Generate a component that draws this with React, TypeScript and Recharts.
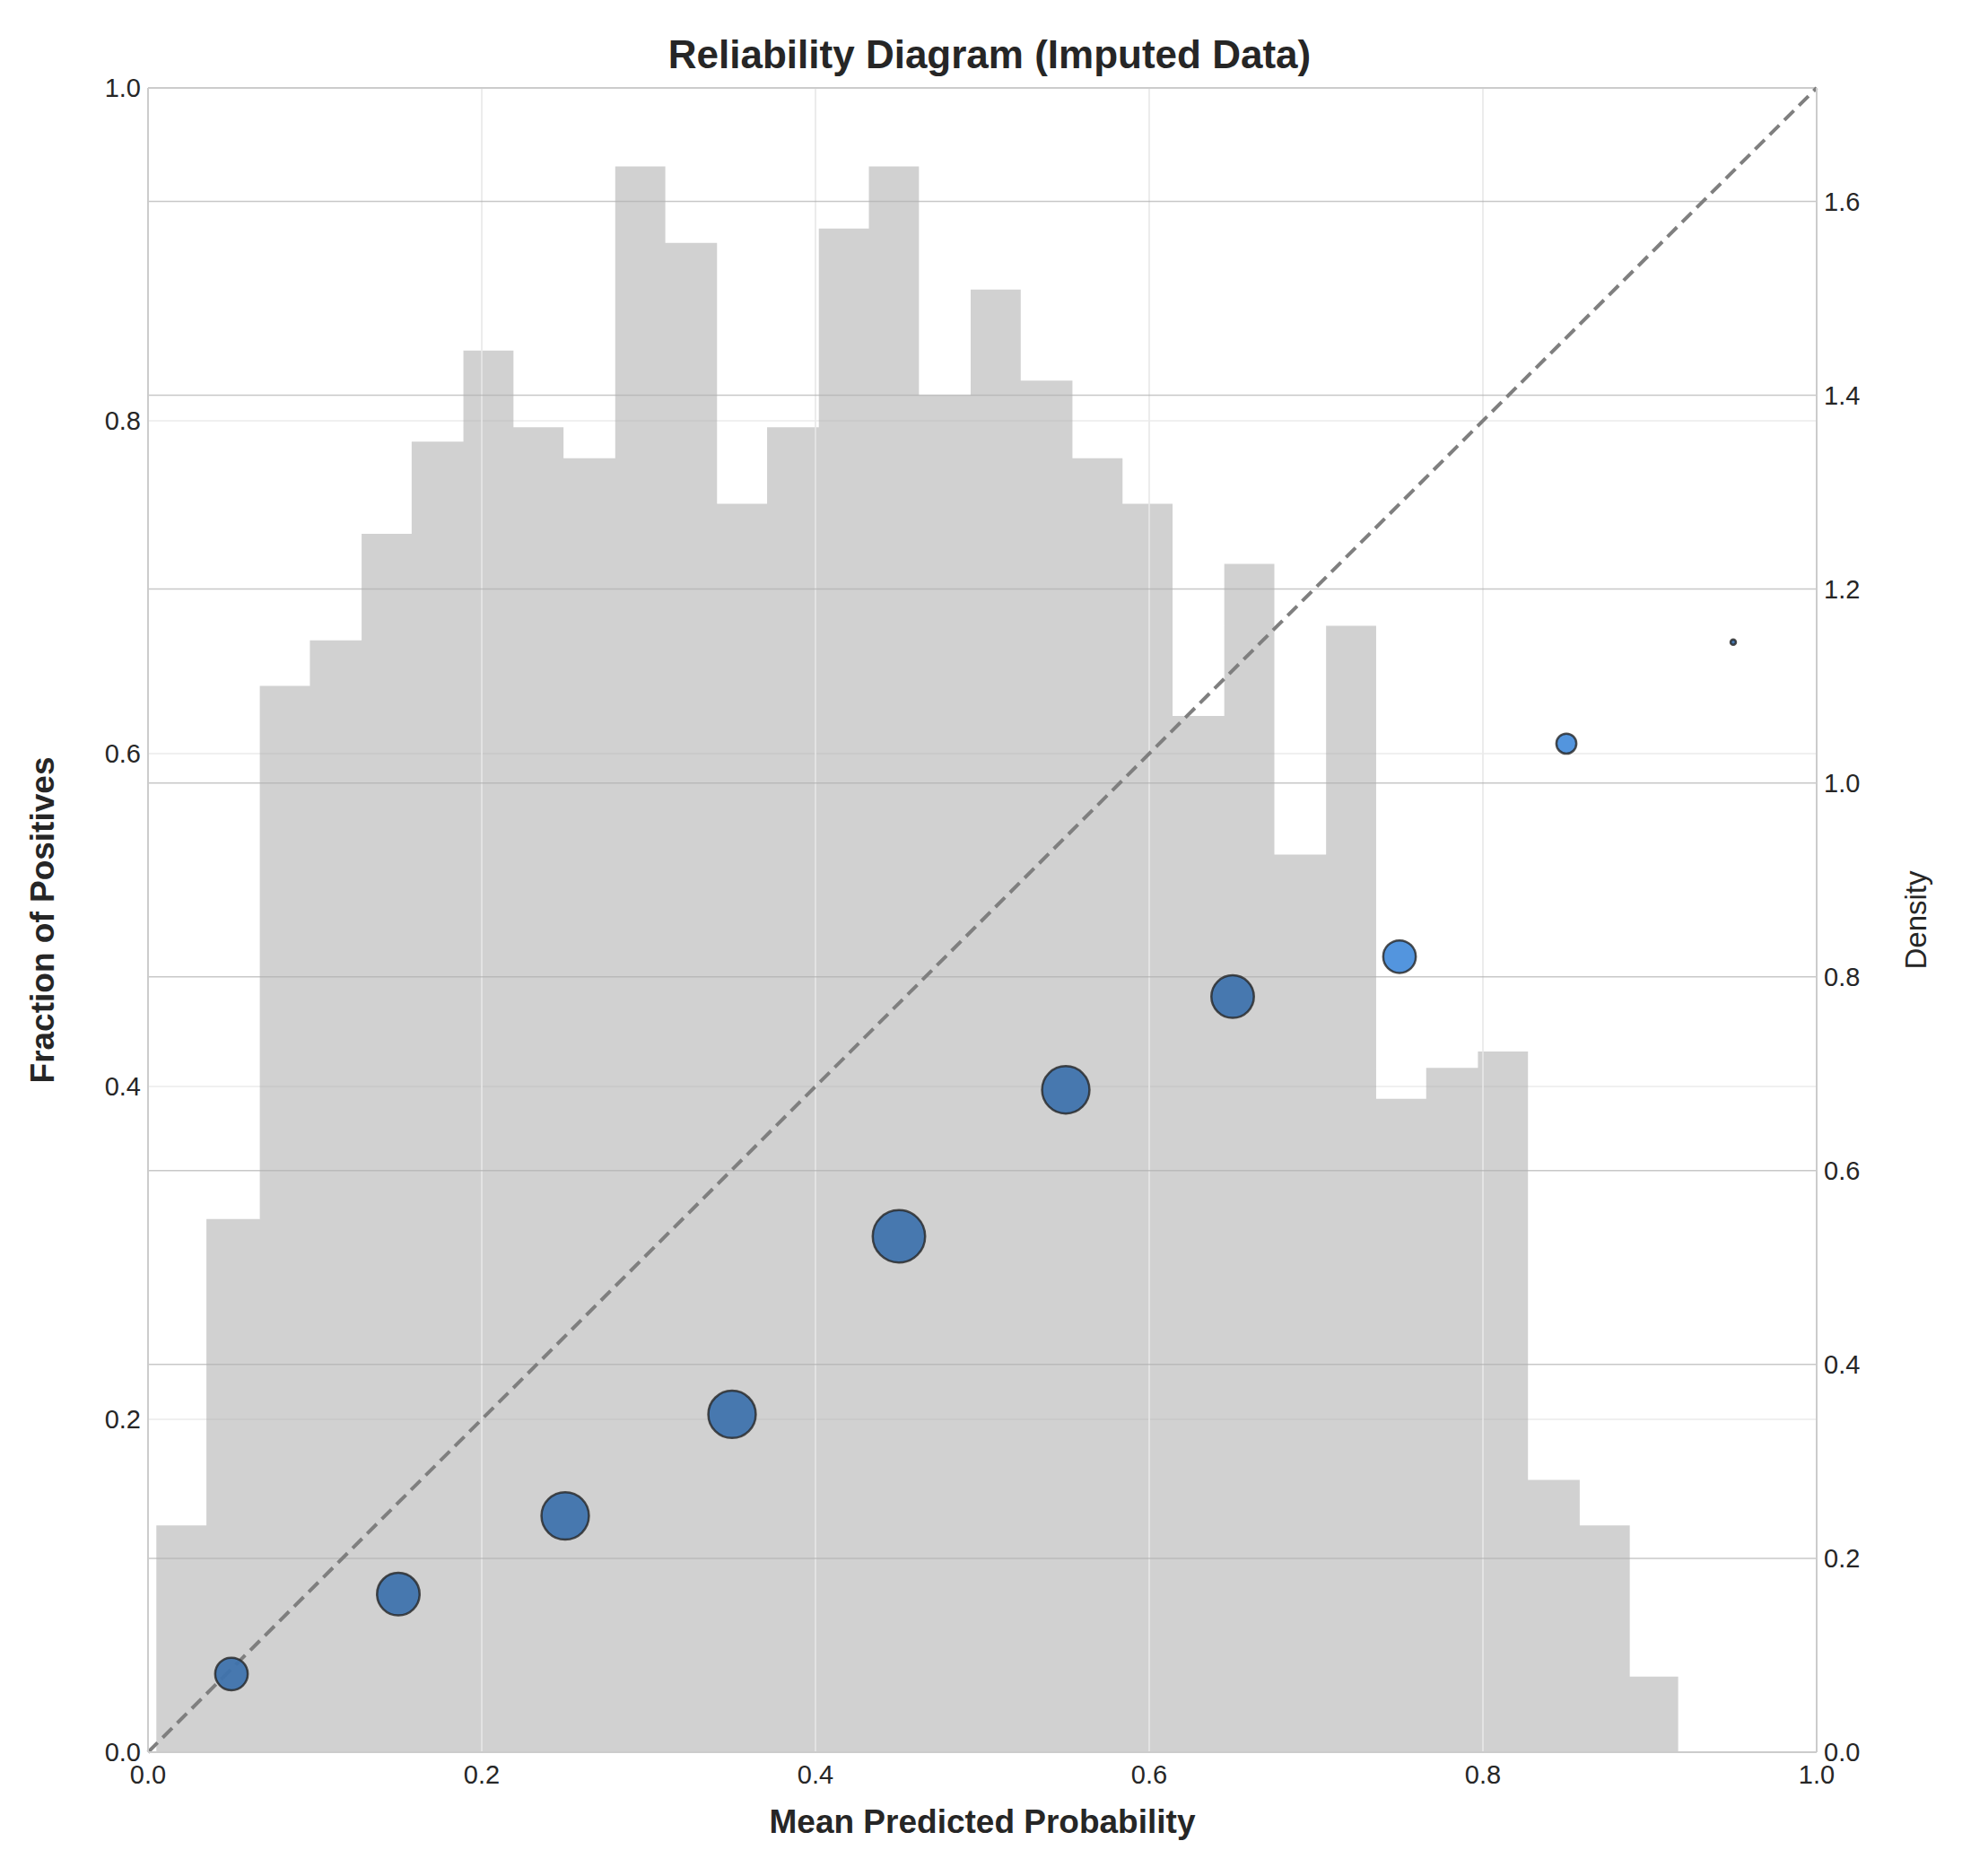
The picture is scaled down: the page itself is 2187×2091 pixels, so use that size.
import { ComposedChart, Area, Scatter, XAxis, YAxis, CartesianGrid, ReferenceLine } from 'recharts'

// histogram of predicted probabilities (density), 30 bins
const binEdges = [
  0.005, 0.035, 0.067, 0.097, 0.128, 0.158, 0.189, 0.219, 0.249, 0.28,
  0.31, 0.341, 0.371, 0.402, 0.432, 0.462, 0.493, 0.523, 0.554, 0.584,
  0.614, 0.645, 0.675, 0.706, 0.736, 0.766, 0.797, 0.827, 0.858, 0.888, 0.917,
]
const densities = [
  0.234, 0.55, 1.1, 1.147, 1.257, 1.352, 1.446, 1.367, 1.335, 1.636,
  1.557, 1.288, 1.367, 1.572, 1.636, 1.4, 1.509, 1.415, 1.335, 1.288,
  1.069, 1.226, 0.926, 1.162, 0.674, 0.706, 0.723, 0.281, 0.234, 0.078,
]

// calibration points
const meanPred = [0.05, 0.15, 0.25, 0.35, 0.45, 0.55, 0.65, 0.75, 0.85, 0.95]
const fracPos = [0.047, 0.095, 0.142, 0.203, 0.31, 0.398, 0.454, 0.478, 0.606, 0.667]
const binCounts = [85, 145, 180, 180, 220, 180, 145, 85, 32, 1]

const xTicks = [0, 0.2, 0.4, 0.6, 0.8, 1]
const leftTicks = [0, 0.2, 0.4, 0.6, 0.8, 1]
const rightTicks = [0, 0.2, 0.4, 0.6, 0.8, 1, 1.2, 1.4, 1.6]

const histData = binEdges.map((x, i) => ({ x, d: i < densities.length ? densities[i] : 0 }))
const pts = meanPred.map((x, i) => ({ x, y: fracPos[i], n: binCounts[i] }))

const FONT = 'Liberation Sans, Arial, sans-serif'
const tickStyle = { fontSize: 29, fill: '#262626', fontFamily: FONT }

const Dot = (p: any) => {
  const r = Math.sqrt(p.payload.n) * 1.97
  const light = p.payload.x === 0.75 || p.payload.x === 0.85
  return (
    <circle cx={p.cx} cy={p.cy} r={Math.max(r, 3)} fill={light ? '#4a8fdc' : '#3f73ad'}
      fillOpacity={0.95} stroke="#262626" strokeOpacity={0.8} strokeWidth={2.5} />
  )
}

export default function App() {
  return (
    <div style={{ fontFamily: FONT, position: 'relative', width: 2179, height: 2083 }}>
      <div style={{ position: 'absolute', top: 28, left: 0, width: 2190, textAlign: 'center',
        fontSize: 44, fontWeight: 'bold', color: '#262626' }}>
        Reliability Diagram (Imputed Data)
      </div>
      <ComposedChart width={2179} height={2083} data={histData}
        margin={{ top: 90, right: 62, left: 57, bottom: 38 }}>
        <CartesianGrid stroke="#ebebeb" strokeWidth={1.5} yAxisId="left"
          verticalPoints={[]} />
        <XAxis dataKey="x" type="number" domain={[0, 1]} ticks={xTicks} height={100}
          tickFormatter={(v) => v.toFixed(1)} tick={tickStyle} tickLine={false}
          axisLine={{ stroke: '#cccccc', strokeWidth: 2 }} tickMargin={8}
          label={{ value: 'Mean Predicted Probability', position: 'insideBottom', offset: 10,
            style: { fontSize: 37, fontWeight: 'bold', fill: '#262626', fontFamily: FONT } }} />
        <YAxis yAxisId="left" type="number" domain={[0, 1]} ticks={leftTicks} width={100}
          tickFormatter={(v) => v.toFixed(1)} tick={tickStyle} tickLine={false}
          axisLine={{ stroke: '#cccccc', strokeWidth: 2 }}
          label={{ value: 'Fraction of Positives', angle: -90, position: 'insideLeft', offset: -18,
            style: { fontSize: 37, fontWeight: 'bold', fill: '#262626', fontFamily: FONT, textAnchor: 'middle' } }} />
        <YAxis yAxisId="right" orientation="right" type="number" domain={[0, 1.717]} ticks={rightTicks}
          width={100} tickFormatter={(v) => v.toFixed(1)} tick={tickStyle} tickLine={false}
          axisLine={{ stroke: '#cccccc', strokeWidth: 2 }}
          label={{ value: 'Density', angle: -90, position: 'insideRight', offset: -10,
            style: { fontSize: 33, fill: '#262626', fontFamily: FONT, textAnchor: 'middle' } }} />
        {xTicks.slice(1, -1).map((v) => (
          <ReferenceLine key={'vx' + v} x={v} yAxisId="left" stroke="#ebebeb" strokeWidth={1.5} />
        ))}
        <Area yAxisId="right" dataKey="d" type="stepAfter" fill="#a3a3a3" fillOpacity={0.5}
          stroke="none" isAnimationActive={false} dot={false} activeDot={false} />
        {rightTicks.slice(1).map((v) => (
          <ReferenceLine key={'r' + v} y={v} yAxisId="right" stroke="#b0b0b0" strokeOpacity={0.7} strokeWidth={1.5} />
        ))}
        <ReferenceLine y={1} yAxisId="left" stroke="#cccccc" strokeWidth={2} />
        <ReferenceLine yAxisId="left" segment={[{ x: 0, y: 0 }, { x: 1, y: 1 }]}
          stroke="#7f7f7f" strokeWidth={4} strokeDasharray="15 8" />
        <Scatter yAxisId="left" data={pts} dataKey="y" shape={Dot} isAnimationActive={false} />
      </ComposedChart>
    </div>
  )
}
